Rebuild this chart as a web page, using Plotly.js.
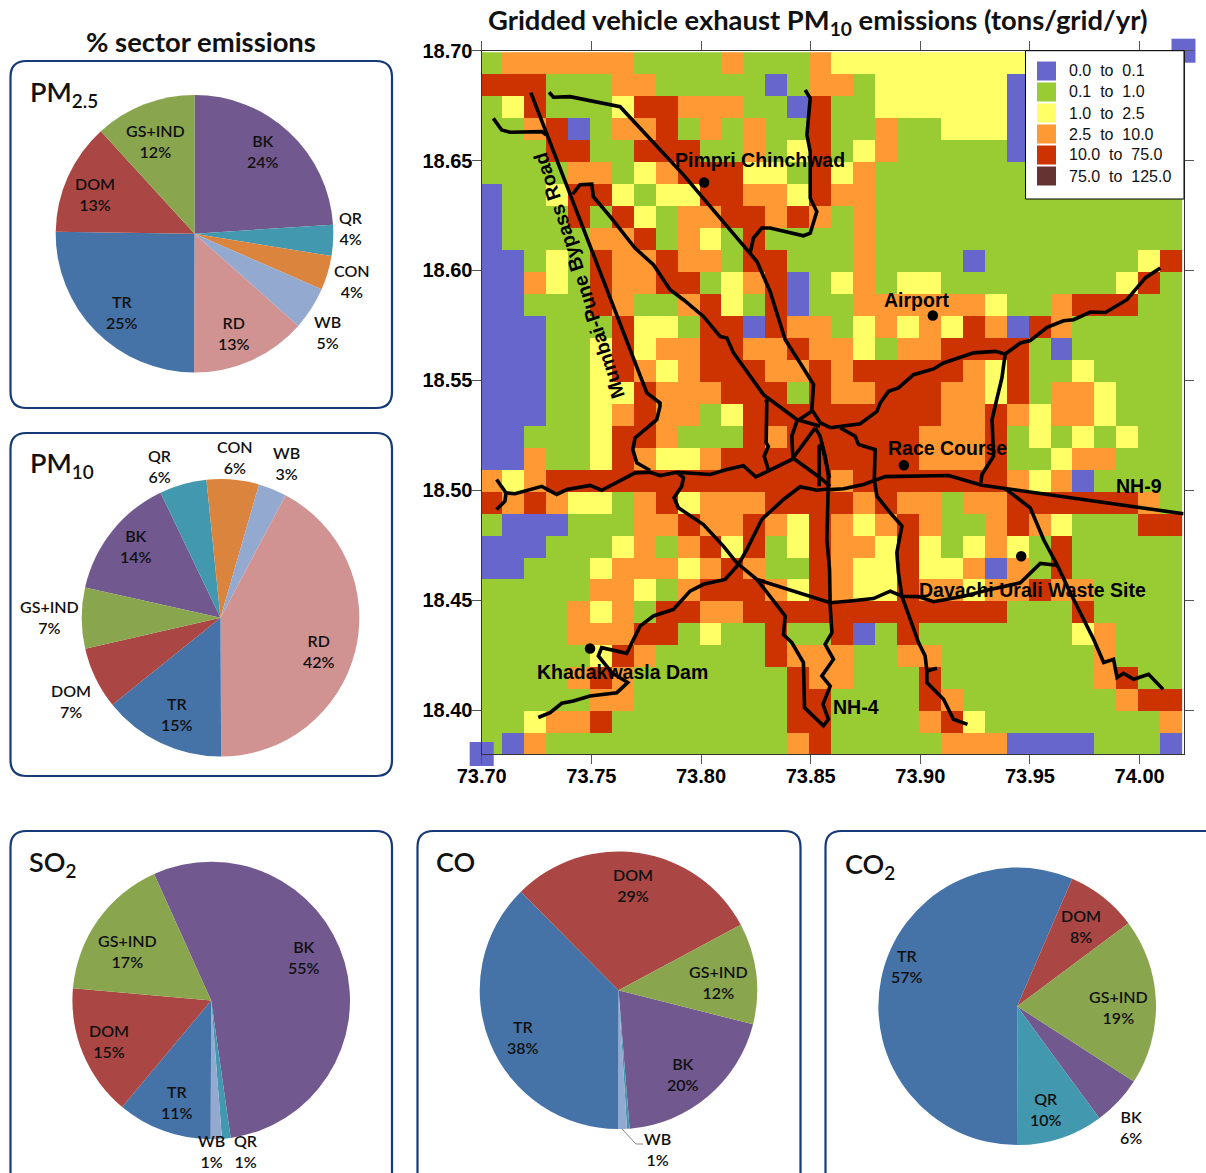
<!DOCTYPE html>
<html>
<head>
<meta charset="utf-8">
<script src="https://cdn.plot.ly/plotly-3.0.1.min.js"></script>
<style>html,body{margin:0;padding:0;background:#fff}#c{width:1206px;height:1173px}</style>
</head>
<body>
<div id="c"></div>
<script>
const W = 1206, H = 1173;

// ---------- emissions grid (tons/grid/yr class per 0.01 degree cell, north to south) ----------
const gridRows = [
"GOOOOOOGGGGOGGGOYYYYYYYYYGGGGGGG",
"RRRGGGOOGGGGGBGOOGYYYYYYBGGGGGGG",
"GYRGGGYRROOOGGBRGGYYYYYYBGGGGGGG",
"GGORBGOORGOGOGGRGGOGGYYYBGGGGGGG",
"GGGRRGGRRRGGOGYRGYOGGGGGBGGGGGGG",
"GGGGOOGYORRRYYGRYOGGGGGGGGGGGGGG",
"BGGYRRYGYYRROOYROOGGGGGGGGGGGGGG",
"BGGGRGRYGOORROROGOGGGGGGGGGGGGGG",
"BGGGGOORGOYGRGGGGOGGGGGGGGGGGGGG",
"BBGYGROOROOGRRGGGOGGGGBGGGGGGGYR",
"BBOYGROORRGYORBGYOGYYGGGGGGGGYRG",
"BBGGGROGGORYGRBGGOOOOOOYGGORRRGG",
"BBBGGGRYYGRRBROOGYOYOYROBROGGGGG",
"BBBGGYRYOORROOROOYGOORRRRGBGGGGG",
"BBBGGYROYORRROORORRRRROYRGGYGGGG",
"BBBGGYYROOORRRGROORRROOYRGOOYGGG",
"BBBGGYOROOGYRRRRRRRRROOROYOOYGGG",
"BBGGGYRROGGGRORRRRRROOORGYGYGYGG",
"BBOGGYROYYORRRRRRRRROOORGGYOOGGG",
"OYORRRRRRRRRRRRRORRRRRRROYOBGGGG",
"ROROYYGORYOOORRRROROOGOORRRRRROG",
"GBBBGGGOOROOROYROYOROGGOROYGGGRR",
"BBBGGGYOGORYRGYROOYRYGYOYGRGGGGG",
"BBGGGYOOOYOROGGROYYRYYOBOGRGGGGG",
"GGGGGOOYGORRROYROYYROOYOOROOGGGG",
"GGGGOYOGRROORRRRRRRRRRRRGGGRGGGG",
"GGGGOOORRGYGGRGGRBGRGGGGGGGYOGGG",
"GGGGGYROGGGGGROOOGGOOGGGGGGGOGGG",
"GGGGOROGGGGGGGROOGGGRGGGGGGGORGG",
"GGGGGOOGGGGGGGRRGGGGROGGGGGGGORR",
"GGYOORGGGGGGGGRRGGGGORYGGGGGGGGO",
"GBOGGGGGGGGGGGORGGGGGOOOBBBBGGGB"
];
const classLetters = ["B","G","Y","O","R","D"];
const classColors = ["#6666CC","#99CC33","#FFFF66","#FF9933","#CC3300","#663333"];
const legendLabels = ["0.0\u00A0 to\u00A0 0.1","0.1\u00A0 to\u00A0 1.0","1.0\u00A0 to\u00A0 2.5","2.5\u00A0 to\u00A0 10.0","10.0\u00A0 to\u00A0 75.0","75.0\u00A0 to\u00A0 125.0"];
const cornerLon = [73.70, 74.02];
const cornerLat = [18.38, 18.70];

// ---------- places ----------
const placeLon = [73.8014, 73.9057, 73.8925, 73.946, 73.7494];
const placeLat = [18.64, 18.5795, 18.5114, 18.47, 18.428];

// ---------- roads ----------
const bypassLon = [73.7224,73.7737,73.7753,73.7813,73.7813,73.7798,73.7745,73.7699,73.7689,73.7707,73.7768];
const bypassLat = [18.6809,18.5495,18.5443,18.5397,18.5382,18.5321,18.5276,18.5238,18.5185,18.5125,18.509];
const stubLon = [73.7053,73.7091,73.7129,73.7274,73.7293];
const stubLat = [18.6692,18.6639,18.6629,18.6632,18.6617];
const northLon = [73.7307,73.7327,73.7403,73.7555,73.7631,73.792,73.8216,73.8255,73.8315,73.8384,73.8452,73.8513,73.8511,73.8505,73.8543,73.8589];
const northLat = [18.6811,18.6788,18.6791,18.6761,18.6745,18.6435,18.6086,18.6041,18.5905,18.5685,18.5579,18.5481,18.5449,18.5367,18.5308,18.5285];
const pimpriLon = [73.8224,73.8239,73.8277,73.8315,73.8467,73.8498,73.8528,73.8498,73.8498,73.8483,73.8498,73.8475];
const pimpriLat = [18.6079,18.6147,18.6193,18.6193,18.6158,18.617,18.6268,18.6329,18.6541,18.6617,18.6784,18.6821];
const midLon = [73.7415,73.7448,73.7502,73.7509,73.7585,73.7699,73.7783,73.7859,73.792,73.8011,73.8087,73.8118,73.8148,73.8255,73.8285,73.8437,73.8543];
const midLat = [18.6347,18.639,18.6393,18.6336,18.6246,18.6102,18.6026,18.5912,18.5867,18.5791,18.57,18.5693,18.5625,18.5481,18.5435,18.5322,18.5291];
const spurLon = [73.8292,73.83,73.8297,73.8307,73.8288,73.8307];
const spurLat = [18.5412,18.5405,18.5216,18.52,18.5155,18.5094];
const forkLon = [73.7068,73.7111,73.7106,73.7068];
const forkLat = [18.5049,18.4988,18.495,18.4912];
const westLon = [73.7111,73.7152,73.7274,73.7342,73.7388,73.7494,73.7547,73.7661,73.7699,73.7768,73.7813,73.789,73.8042,73.8118,73.8193,73.825,73.8414,73.8521];
const westLat = [18.4988,18.4984,18.5018,18.4981,18.5003,18.5022,18.5,18.5057,18.5079,18.5082,18.5067,18.5082,18.5072,18.5094,18.5112,18.5061,18.514,18.5284];
const nh4Lon = [73.789,73.792,73.7912,73.7877,73.7897,73.8011,73.8102,73.8163,73.8255,73.8384,73.8376,73.8414,73.8467,73.8472,73.8558,73.8581,73.8556,73.8589,73.8551,73.8604,73.8566,73.8597,73.8589,73.8586,73.8574,73.8578,73.8581,73.8566,73.8543,73.8521];
const nh4Lat = [18.5082,18.5057,18.5018,18.4966,18.492,18.4844,18.4746,18.467,18.4594,18.4428,18.4344,18.4307,18.4216,18.4011,18.3928,18.3958,18.4026,18.4109,18.4155,18.4231,18.4299,18.4352,18.4473,18.464,18.4776,18.4912,18.5064,18.5155,18.5246,18.5284];
const damLon = [73.7258,73.7312,73.7365,73.7418,73.7494,73.7616,73.7666,73.7593,73.7532,73.7547,73.7661,73.7722,73.7783,73.7874,73.795,73.8011,73.811,73.8171,73.8209,73.8277,73.8376,73.8452,73.8528,73.8589];
const damLat = [18.3966,18.3988,18.4031,18.4041,18.4064,18.4079,18.4125,18.417,18.4246,18.4284,18.4258,18.4382,18.4428,18.4458,18.4541,18.4572,18.4594,18.4663,18.4731,18.4867,18.4958,18.5016,18.5,18.5007];
const southLon = [73.8255,73.8589,73.868,73.8786,73.8863,73.8916,73.8992,73.906,73.9197,73.9319,73.9456,73.9547,73.9623];
const southLat = [18.4594,18.4488,18.4496,18.4507,18.4541,18.4518,18.4516,18.4493,18.4518,18.4549,18.4579,18.4667,18.4659];
const airportLon = [73.8589,73.8726,73.8802,73.8817,73.8855,73.89,73.8969,73.906,73.9106,73.9243,73.9342,73.9387,73.9456,73.9501,73.9578,73.9653,73.9699,73.9775,73.9844,73.9942,74.0026,74.0094];
const airportLat = [18.5284,18.5303,18.5359,18.5397,18.545,18.5466,18.5526,18.5552,18.5579,18.5625,18.5632,18.562,18.567,18.5681,18.5741,18.5771,18.5776,18.5811,18.5809,18.5867,18.5966,18.6011];
const linkLon = [73.9387,73.9372,73.9346,73.9327,73.9334,73.9281,73.9276];
const linkLat = [18.562,18.5511,18.5403,18.5322,18.5155,18.5072,18.5034];
const nh9Lon = [73.8589,73.865,73.8741,73.884,73.9129,73.9281,73.9387,74.0201];
const nh9Lat = [18.5003,18.5007,18.5026,18.5062,18.5067,18.5023,18.5008,18.4893];
const raceLon = [73.8635,73.8703,73.8718,73.8794,73.879,73.8802,73.8863,73.8916,73.8893,73.89,73.8916,73.8992,73.9022,73.903,73.9076,73.903,73.903,73.9106,73.9151,73.9215];
const raceLat = [18.5284,18.5246,18.5208,18.5185,18.5049,18.4973,18.4897,18.4837,18.4716,18.4626,18.4518,18.4307,18.4246,18.4178,18.419,18.4178,18.4125,18.4049,18.3958,18.3935];
const eastLon = [73.9387,73.9501,73.9562,73.963,73.9684,73.979,73.9836,73.9881,73.9897,73.9927,73.9973,74.0041,74.0107];
const eastLat = [18.5008,18.492,18.4776,18.4648,18.4534,18.4322,18.4216,18.4231,18.4148,18.4167,18.414,18.4163,18.4094];
const ringLon = [73.8505,73.8437,73.8414,73.8419,73.8543,73.8589];
const ringLat = [18.5359,18.5314,18.5246,18.5147,18.5057,18.5018];
const innerLon = [73.8539,73.8539,73.8551,73.8566,73.8586];
const innerLat = [18.5018,18.52,18.5208,18.5147,18.5057];
const allRoads = [[bypassLon,bypassLat],[stubLon,stubLat],[northLon,northLat],[pimpriLon,pimpriLat],[midLon,midLat],[spurLon,spurLat],[forkLon,forkLat],[westLon,westLat],[nh4Lon,nh4Lat],[damLon,damLat],[southLon,southLat],[airportLon,airportLat],[linkLon,linkLat],[nh9Lon,nh9Lat],[raceLon,raceLat],[eastLon,eastLat],[ringLon,ringLat],[innerLon,innerLat]];

// ---------- sector pies ----------
const sectorColors = {BK:"#71588F",QR:"#4198AF",CON:"#DB843D",WB:"#93A9CF",RD:"#D19392",TR:"#4572A7",DOM:"#AA4643","GS+IND":"#89A54E"};
const pm25Sectors = ["BK","QR","CON","WB","RD","TR","DOM","GS+IND"];
const pm25Shares  = [24,3.6,4,5,13.5,25.2,13,11.8];
const pm25Printed = [24,4,4,5,13,25,13,12];
const pm10Sectors = ["BK","QR","CON","WB","RD","TR","DOM","GS+IND"];
const pm10Shares  = [14.4,5.5,6.1,3.3,42.2,14.3,7.2,7.1];
const pm10Printed = [14,6,6,3,42,15,7,7];
const so2Sectors  = ["BK","QR","WB","TR","DOM","GS+IND"];
const so2Shares   = [54.4,1,1.3,11,15.3,16.8];
const so2Printed  = [55,1,1,11,15,17];
const coSectors   = ["BK","QR","WB","TR","DOM","GS+IND"];
const coShares    = [19.8,0.3,1,37.6,29.6,11.8];
const coPrinted   = [20,null,1,38,29,12];
const co2Sectors  = ["BK","QR","TR","DOM","GS+IND"];
const co2Shares   = [5.8,10,56.5,8.3,19.3];
const co2Printed  = [6,10,57,8,19];

const px = x => x / W, py = y => 1 - y / H;

const pieSpecs = [
 {title:"PM<sub>2.5</sub>", tx:27.5, ty:93, cats:pm25Sectors, vals:pm25Shares, pr:pm25Printed, cx:194.5, cy:233.7, rot:0,
  at:[[263,151],[351,228],[352,280.7],[327,332],[234,333],[122,312],[95,194],[155,141]]},
 {title:"PM<sub>10</sub>", tx:28, ty:464, cats:pm10Sectors, vals:pm10Shares, pr:pm10Printed, cx:220.5, cy:617.8, rot:282.6,
  at:[[136,546],[160,466],[235,457],[286,463],[319,651],[177,714],[71,701],[49,617]]},
 {title:"SO<sub>2</sub>", tx:27, ty:863, cats:so2Sectors, vals:so2Shares, pr:so2Printed, cx:211.2, cy:1000.5, rot:335.7,
  at:[[304,957],[246,1151],[211,1151],[177,1102],[109,1041],[127,951]]},
 {title:"CO", tx:433.5, ty:861, cats:coSectors, vals:coShares, pr:coPrinted, cx:618.5, cy:990.3, rot:104.2,
  at:[[683,1074],null,[657,1149],[523,1037],[633,885],[718,982]]},
 {title:"CO<sub>2</sub>", tx:842.5, ty:865, cats:co2Sectors, vals:co2Shares, pr:co2Printed, cx:1017.2, cy:1006.3, rot:122.8,
  at:[[1131,1127],[1046,1109],[907,966],[1081,926],[1118,1007]]}
];
const pieRadius = 138.8;

const traces = [];
// grid
const z = gridRows.map(r => r.split("").map(c => classLetters.indexOf(c)));
const scale = [];
classColors.forEach((c,i)=>{ scale.push([i/6,c]); scale.push([(i+1)/6,c]); });
traces.push({type:"heatmap", z:z, x0:73.7043, dx:0.01, y0:18.6943, dy:-0.01, zmin:0, zmax:6, colorscale:scale, showscale:false, hoverinfo:"skip", xaxis:"x", yaxis:"y"});
traces.push({type:"scatter", mode:"markers", x:cornerLon, y:cornerLat, cliponaxis:false, marker:{symbol:"square",size:24,color:classColors[0]}, showlegend:false, hoverinfo:"skip"});
allRoads.forEach(r => traces.push({type:"scatter", mode:"lines", x:r[0], y:r[1], line:{color:"#000",width:3.6}, cliponaxis:true, showlegend:false, hoverinfo:"skip"}));
traces.push({type:"scatter", mode:"markers", x:placeLon, y:placeLat, marker:{color:"#000",size:10.5}, showlegend:false, hoverinfo:"skip"});

const annotations = [];
const lab = (x,y,text,font,extra) => annotations.push(Object.assign({xref:"paper",yref:"paper",x:px(x),y:py(y),text:text,showarrow:false,xanchor:"center",yanchor:"middle",align:"center",font:font},extra||{}));
const labelFont = {family:"Lato",size:16,color:"#111",weight:600};

pieSpecs.forEach(s=>{
  traces.push({type:"pie", labels:s.cats, values:s.vals, sort:false, direction:"clockwise", rotation:s.rot, textinfo:"none", hoverinfo:"skip", showlegend:false,
    marker:{colors:s.cats.map(c=>sectorColors[c]), line:{width:0}},
    domain:{x:[px(s.cx-pieRadius),px(s.cx+pieRadius)], y:[py(s.cy+pieRadius),py(s.cy-pieRadius)]}});
  s.cats.forEach((c,i)=>{ if(s.at[i]) lab(s.at[i][0],s.at[i][1],c+"<br>"+s.pr[i]+"%",labelFont); });
  annotations.push({xref:"paper",yref:"paper",x:px(s.tx),y:py(s.ty),text:s.title,showarrow:false,xanchor:"left",yanchor:"middle",font:{family:"Lato",size:27,color:"#111",weight:600}});
});

const head = {family:"Lato",size:27.4,color:"#111"};
lab(817,21.5,"<b>Gridded vehicle exhaust PM<sub>10</sub> emissions (tons/grid/yr)</b>",head);
lab(201,41.5,"<b>% sector emissions</b>",head);

const mapFont = {family:"Liberation Sans",size:19.5,color:"#000"};
lab(760,160,"<b>Pimpri Chinchwad</b>",mapFont);
lab(917,300,"<b>Airport</b>",mapFont);
lab(947,448,"<b>Race Course</b>",mapFont);
lab(1139,486,"<b>NH-9</b>",mapFont);
lab(1032,590,"<b>Davachi Urali Waste Site</b>",mapFont);
lab(622,672,"<b>Khadakwasla Dam</b>",mapFont);
lab(856,707,"<b>NH-4</b>",mapFont);
lab(579,276,"<b>Mumbai-Pune Bypass Road</b>",mapFont,{textangle:-107.9});

// rounded sector panels
const panel = (x0,y0,x1,y1) => {
  const r=16, X=px, Y=py;
  return {type:"path", xref:"paper", yref:"paper", layer:"below", line:{color:"#163A78",width:2.2}, fillcolor:"rgba(0,0,0,0)",
    path:`M ${X(x0+r)} ${Y(y0)} L ${X(x1-r)} ${Y(y0)} Q ${X(x1)} ${Y(y0)} ${X(x1)} ${Y(y0+r)} L ${X(x1)} ${Y(y1-r)} Q ${X(x1)} ${Y(y1)} ${X(x1-r)} ${Y(y1)} L ${X(x0+r)} ${Y(y1)} Q ${X(x0)} ${Y(y1)} ${X(x0)} ${Y(y1-r)} L ${X(x0)} ${Y(y0+r)} Q ${X(x0)} ${Y(y0)} ${X(x0+r)} ${Y(y0)} Z`};
};
const shapes = [
  panel(10.5,61,392,408),
  panel(10.5,433,392,776),
  panel(10.5,831,392,1195),
  panel(417.5,831,800.5,1195),
  panel(825.5,831,1230,1195),
  {type:"path", xref:"paper", yref:"paper", line:{color:"#888",width:1}, path:`M ${px(622)} ${py(1129)} L ${px(636)} ${py(1144)} L ${px(643)} ${py(1144)}`},
  {type:"rect", xref:"paper", yref:"paper", x0:px(1025.5), x1:px(1184), y0:py(199), y1:py(50.7), fillcolor:"#fff", line:{color:"#000",width:1}}
];
// class key
legendLabels.forEach((n,i)=>{
  const yc = 71 + 21*i;
  shapes.push({type:"rect", xref:"paper", yref:"paper", x0:px(1037), x1:px(1056), y0:py(yc+9.5), y1:py(yc-9.5), fillcolor:classColors[i], line:{width:0}});
  annotations.push({xref:"paper",yref:"paper",x:px(1067),y:py(yc),text:n,showarrow:false,xanchor:"left",yanchor:"middle",font:{family:"Liberation Sans",size:16,color:"#111"}});
});

const axisCommon = {showline:true, linecolor:"#333", linewidth:1.2, mirror:"allticks", ticks:"outside", ticklen:9, tickwidth:1, tickcolor:"#555", showgrid:false, zeroline:false, dtick:0.05, tickformat:".2f",
  tickfont:{family:"Liberation Sans",size:20,color:"#000",weight:"bold"}};

Plotly.newPlot("c", traces, {
  width:W, height:H, margin:{l:0,r:0,t:0,b:0}, paper_bgcolor:"#fff", plot_bgcolor:"#fff",
  xaxis:Object.assign({}, axisCommon, {domain:[px(481.7),px(1183.5)], range:[73.70,74.02], tick0:73.70, anchor:"y", ticklabelstandoff:-5}),
  yaxis:Object.assign({}, axisCommon, {domain:[py(754),py(50.7)], range:[18.38,18.70], tick0:18.40, anchor:"x", ticklabelstandoff:-5}),
  showlegend:false,
  shapes:shapes, annotations:annotations
}, {displayModeBar:false, staticPlot:true});
</script>
</body>
</html>
